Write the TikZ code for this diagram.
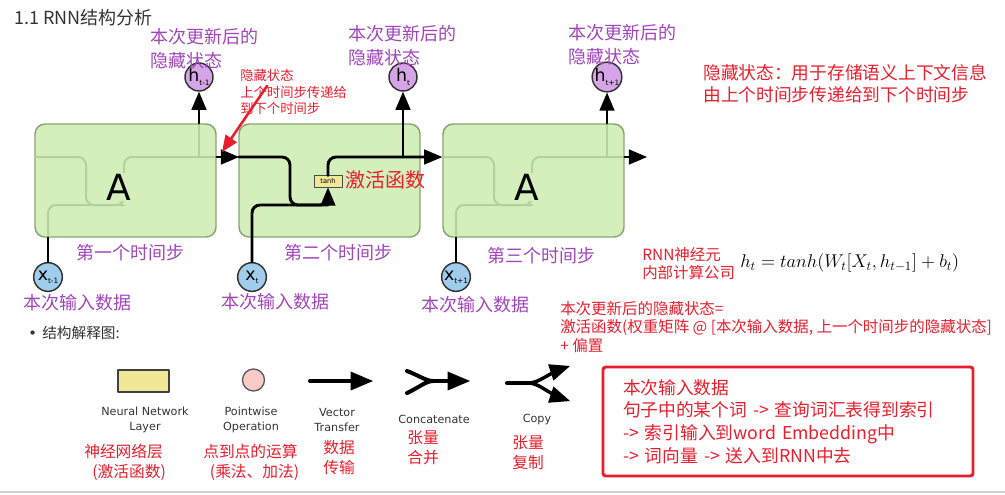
\documentclass[tikz,border=0pt]{standalone}
\usepackage[no-math]{fontspec}
\setmainfont{Noto Sans CJK SC}
\newfontfamily\dejavu{DejaVu Sans}
\usepackage{tikz}
\usetikzlibrary{arrows}
\usetikzlibrary{positioning}
\definecolor{cellgreen}{RGB}{213,239,188}
\definecolor{celledge}{RGB}{135,165,115}
\definecolor{wirefaint}{RGB}{180,209,156}
\definecolor{hpurple}{RGB}{214,165,232}
\definecolor{xblue}{RGB}{160,205,235}
\definecolor{notepurple}{RGB}{160,70,185}
\definecolor{notered}{RGB}{232,30,45}
\definecolor{layeryellow}{RGB}{240,232,150}
\definecolor{oppink}{RGB}{248,202,200}
\newcommand{\cellsub}[2]{#1\raisebox{-0.35ex}{\fontsize{5.5}{5.5}\selectfont#2}}

\begin{document}
\begin{tikzpicture}[x=0.75pt,y=-0.75pt,line cap=round,line join=round,>=triangle 45,
cell/.style={draw=celledge,fill=cellgreen,rounded corners=7.5pt,line width=1.1pt,minimum width=135.75pt,minimum height=84.75pt},
hstate/.style={circle,draw=black!80,fill=hpurple,line width=1.1pt,minimum size=21pt,inner sep=0pt,font=\dejavu\fontsize{13}{13}\selectfont},
xinput/.style={circle,draw=black!80,fill=xblue,line width=1.1pt,minimum size=21.5pt,inner sep=0pt,font=\dejavu\fontsize{13}{13}\selectfont},
wire/.style={line width=2.2pt,rounded corners=6pt},
faint/.style={line width=1.5pt,draw=wirefaint,rounded corners=6pt},
bigA/.style={font=\dejavu\fontsize{27}{27}\selectfont,fill=cellgreen,inner sep=1pt},
tanhbox/.style={draw=black!70,fill=layeryellow,line width=0.6pt,minimum width=21pt,minimum height=8.5pt,inner sep=0pt,font=\dejavu\fontsize{5}{5}\selectfont},
purplenote/.style={text=notepurple,font=\fontsize{13.5}{18}\selectfont,align=left,inner sep=0pt},
rednote/.style={text=notered,align=left,inner sep=0pt},
redarrow/.style={draw=notered,line width=1.9pt},
layerbox/.style={draw=black!75,fill=layeryellow,line width=1.3pt,minimum width=38.25pt,minimum height=16.5pt,inner sep=0pt},
pointop/.style={circle,draw=black!65,fill=oppink,line width=1pt,minimum size=16.5pt,inner sep=0pt},
legendarrow/.style={line width=3pt},
legendtxt/.style={text=black!80,font=\dejavu\fontsize{8.4}{11.25}\selectfont,align=center,inner sep=0pt},
legendred/.style={text=notered,font=\fontsize{11.8}{15}\selectfont,align=center,inner sep=0pt},
inputbox/.style={draw=notered,line width=2.2pt,rounded corners=2pt,minimum width=277.5pt,minimum height=81.75pt,text width=247.5pt,inner xsep=15pt,align=left,text=notered,font=\fontsize{13.3}{17}\selectfont}]
\useasboundingbox (0,0) rectangle (1005,494);
\node[anchor=west,text=black!80,font=\fontsize{13.5}{16}\selectfont,inner sep=0pt] (title) at (14,18) {1.1 RNN结构分析};
\foreach \i/\cx in {1/125.5,2/329.5,3/533.5}
\node[cell] (cell\i) at (\cx,180.5) {};
\foreach \bx in {35,443}{
\draw[faint] (\bx,157) -| (\bx+51,205) -| (\bx+89,157) -- (\bx+181,157);
\draw[faint] (\bx+13,237) |- (\bx+89,205);
\draw[faint] (\bx+164,157) -- (\bx+164,124);
}
\node[bigA] (A1) at (119,187) {A};
\node[bigA] (A3) at (527,187) {A};
\node[hstate] (h1) at (199,77) {\cellsub{h}{t-1}};
\node[hstate] (h2) at (403,77) {\cellsub{h}{t}};
\node[hstate] (h3) at (607,77) {\cellsub{h}{t+1}};
\node[xinput] (x1) at (48,277) {\cellsub{x}{t-1}};
\node[xinput] (x2) at (252,277) {\cellsub{x}{t}};
\node[xinput] (x3) at (456,277) {\cellsub{x}{t+1}};
\node[tanhbox] (tanh) at (328,181.5) {tanh};
\coordinate (in2) at (239,157);
\coordinate (merge2) at (328,205);
\coordinate (out2) at (403,157);
\coordinate (end3) at (647,157);
\draw[wire,->] (cell1.east |- in2) -- (in2);
\draw[wire,->] (in2) -| (290,205) -| (tanh.south);
\draw[wire] (x2) |- (merge2);
\draw[wire,->] (tanh.north) |- (cell3.west |- in2);
\draw[wire,->] (out2) -- (h2);
\draw[wire] (x1) -- (x1 |- cell1.south);
\draw[wire] (x3) -- (x3 |- cell3.south);
\draw[wire,->] (cell1.north -| h1) -- (h1);
\draw[wire,->] (cell3.north -| h3) -- (h3);
\draw[wire,->] (cell3.east |- in2) -- (end3);
\node[purplenote,anchor=west] (upd1) at (150,49) {本次更新后的\\隐藏状态};
\node[purplenote,anchor=west] (upd2) at (348,46) {本次更新后的\\隐藏状态};
\node[purplenote,anchor=west] (upd3) at (568,45) {本次更新后的\\隐藏状态};
\foreach \i/\sx/\sy/\ord in {1/130/253/一,2/338/253/二,3/541/256/三}
\node[purplenote] (step\i) at (\sx,\sy) {第\ord 个时间步};
\foreach \i/\lx/\ly in {1/77/303,2/275/302,3/475/305}
\node[purplenote] (xlabel\i) at (\lx,\ly) {本次输入数据};
\node[rednote,anchor=west,font=\fontsize{10}{12.4}\selectfont] (hidnote) at (240,92) {隐藏状态\\上个时间步传递给\\到下个时间步};
\coordinate (hidtail) at (267,86);
\coordinate (hidtip) at (222,152);
\draw[redarrow,->] (hidtail) -- (hidtip);
\node[rednote,anchor=west,font=\fontsize{15}{18}\selectfont] (actnote) at (345,180) {激活函数};
\node[rednote,anchor=west,font=\fontsize{13.3}{16.5}\selectfont] (hidinfo) at (703,84) {隐藏状态：用于存储语义上下文信息\\由上个时间步传递给到下个时间步};
\node[rednote,anchor=west,font=\fontsize{11.6}{13.5}\selectfont] (rnnnote) at (642,264) {RNN神经元\\内部计算公司};
\node[anchor=west,inner sep=0pt,font=\fontsize{14.4}{16}\selectfont] (formula) at (740,263) {\scalebox{0.96}{$h_t = tanh(W_t[X_t, h_{t-1}] + b_t)$}};
\node[rednote,anchor=west,font=\fontsize{11.6}{13.9}\selectfont] (updnote) at (560,327) {本次更新后的隐藏状态=\\激活函数(权重矩阵 @ [本次输入数据, 上一个时间步的隐藏状态]\\+ 偏置};
\node[anchor=west,inner sep=0pt,text=black!80,font=\fontsize{11}{13}\selectfont] (bullet) at (28,333) {{\dejavu\textbullet}\hspace{4pt}结构解释图:};
\node[layerbox] (nnl) at (143.5,381) {};
\node[pointop] (pwo) at (253.5,380) {};
\coordinate (vt-a) at (310,381);
\coordinate (vt-b) at (373,381);
\draw[legendarrow,->] (vt-a) -- (vt-b);
\coordinate (cc-top) at (407,371);
\coordinate (cc-bot) at (407,393);
\coordinate (cc-mid) at (433,381);
\coordinate (cc-end) at (470,381);
\draw[legendarrow] (cc-top) .. controls (418,375) and (426,381) .. (cc-mid);
\draw[legendarrow] (cc-bot) .. controls (418,388) and (426,381) .. (cc-mid);
\draw[legendarrow,->] (cc-mid) -- (cc-end);
\coordinate (cp-a) at (507,383);
\coordinate (cp-mid) at (528,383);
\coordinate (cp-top) at (570,366);
\coordinate (cp-bot) at (570,401);
\draw[legendarrow] (cp-a) -- (cp-mid);
\draw[legendarrow,line width=2.6pt,->] (cp-mid) .. controls (540,383) and (546,374) .. (cp-top);
\draw[legendarrow,line width=2.6pt,->] (cp-mid) .. controls (540,383) and (546,393) .. (cp-bot);
\node[legendtxt] (nnl-t) at (145,419.5) {Neural Network\\Layer};
\node[legendtxt] (pwo-t) at (251,419.5) {Pointwise\\Operation};
\node[legendtxt] (vt-t) at (337,419.5) {Vector\\Transfer};
\node[legendtxt] (cc-t) at (434,419) {Concatenate};
\node[legendtxt] (cp-t) at (537,419) {Copy};
\node[legendred,anchor=west,align=left] (nnl-r) at (84,462) {神经网络层\\\hspace*{6pt}(激活函数)};
\node[legendred,anchor=west,align=left] (pwo-r) at (203,462) {点到点的运算\\\hspace*{5pt}(乘法、加法)};
\node[legendred] (vt-r) at (339,457) {数据\\传输};
\node[legendred] (cc-r) at (423,448) {张量\\合并};
\node[legendred] (cp-r) at (528,453) {张量\\复制};
\node[inputbox] (inputnote) at (788,421.5) {本次输入数据\\句子中的某个词 -> 查询词汇表得到索引\\-> 索引输入到word Embedding中\\-> 词向量 -> 送入到RNN中去};
\draw[gray!35,line width=1pt] (0,492) -- (1005,492);
\end{tikzpicture}
\end{document}
